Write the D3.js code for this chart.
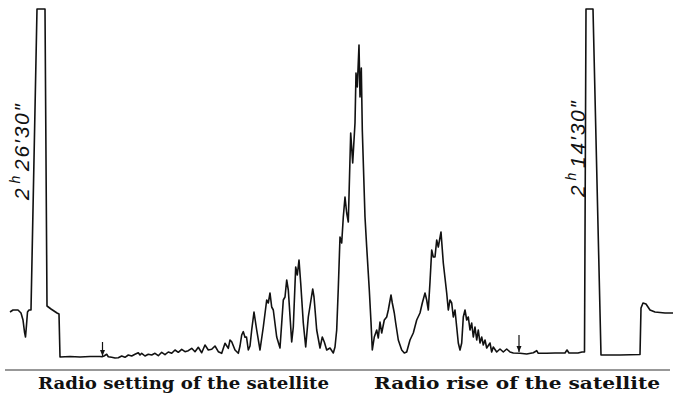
<!DOCTYPE html>
<html>
<head>
<meta charset="utf-8">
<script src="https://cdn.jsdelivr.net/npm/d3@7"></script>
<style>
  html, body { margin: 0; padding: 0; background: #fff; }
  .trace { fill: none; stroke: #111; stroke-width: 1.6; stroke-linejoin: round; }
  .timeLabel { font-family: 'Liberation Sans', 'DejaVu Sans', sans-serif; font-style: italic; fill: #111; }
  .phaseLabel { font-family: 'DejaVu Serif', 'Liberation Serif', serif; font-weight: bold; fill: #111; }
</style>
</head>
<body>
<div id="chart"></div>
<script>
/* global d3 */

// pen deflection along the chart strip: [position, deflection]
const pulseLeft = [
  [10, 46], [13, 48], [18, 48], [21, 45], [23, 38], [24.5, 26], [25.5, 21], [26.5, 33],
  [27.5, 46], [29, 48], [31, 48], [37, 349], [45, 349], [47, 52], [51, 49], [57, 45],
  [59, 44], [60, 1], [70, 1.5], [80, 1], [90, 1.5], [100, 1.5]
];

const settingTrace = [
  [102, 1.3], [104, 2], [106.7, 3.7], [108.3, 1.3], [111.7, 0.7], [115, 0], [118.3, 0.3],
  [121.7, 2], [125, 0.7], [128.3, 3], [131.7, 2], [135, 3.7], [138.3, 5.3], [140, 3],
  [141.7, 4.7], [145, 2], [148.3, 3.7], [151.7, 3], [155, 4.7], [158.3, 2.3], [161.7, 5.7],
  [165, 3.3], [168.3, 6], [171.7, 4.7], [175, 8], [178.3, 5.7], [181.7, 8.7], [185, 6.3],
  [188.3, 7.3], [191.7, 9.7], [195, 6.3], [198.3, 10.7], [201.7, 5.3], [205, 13], [208.3, 8],
  [211.7, 8.7], [215, 12], [218.3, 6.3], [221.7, 4.7], [225, 14.7], [228.3, 9.7], [230, 18],
  [231.7, 16.3], [235, 8], [238.3, 4.7], [240, 12], [241.7, 23], [243.3, 26.3], [245, 20.7],
  [246.5, 21], [248.3, 8], [250, 12], [251.7, 28], [254, 46], [256.7, 28], [260, 8],
  [263.3, 31], [266.7, 58], [268.3, 55], [270, 65], [271.7, 51], [273.3, 48], [276.7, 21],
  [280, 10], [283.3, 58], [285, 61], [286.7, 78], [288.3, 68], [291.7, 16], [293.3, 31],
  [295.7, 91], [297.3, 83], [299, 98], [300.7, 75], [303.3, 35], [305.7, 11], [308.3, 41],
  [312.7, 69], [314, 61], [316.7, 28], [320, 10], [322.3, 21], [324.3, 16], [326.7, 8],
  [330, 10], [333.3, 5]
];

const mainPeak = [
  [335, 11], [336.7, 28], [338.3, 70], [340, 121], [341.7, 115], [343.3, 141], [345, 161],
  [346.7, 145], [348.3, 136], [350.7, 225], [352.7, 195], [355, 235], [356, 285], [357.3, 271],
  [359, 313], [360, 261], [361.3, 290], [362.3, 228], [365, 141], [366.7, 111], [369.3, 68],
  [371, 36], [372.3, 8], [374.3, 21], [376.7, 28], [378.3, 20], [380, 36], [381.7, 25],
  [384.3, 38], [386.7, 41], [388.3, 48], [391, 63], [392.3, 55], [394.3, 45], [395.7, 35],
  [398.3, 18], [401.7, 8], [404.3, 5], [406.7, 6], [410, 18], [413.3, 25], [416.7, 38],
  [420, 45], [422.3, 55], [425, 65], [426.7, 58], [428.3, 48], [430, 76], [431.7, 108],
  [433.3, 101], [435, 101], [436.7, 118], [438.3, 111], [441, 126], [443.3, 95], [445, 80],
  [446.7, 65], [448.3, 48], [450, 58], [451.7, 55], [453.3, 41], [455, 48], [456.7, 31],
  [458.3, 15], [460, 8], [461.7, 15]
];

const riseTrace = [
  [463.3, 41], [465, 48], [466.7, 38], [468.3, 41], [470, 28], [471.7, 35], [473.3, 21],
  [475, 31], [476.7, 18], [478.3, 28], [480, 15], [481.7, 21], [483.3, 13], [485, 18],
  [486.7, 10], [490, 15], [491.7, 6], [493.3, 11], [496.7, 6], [500, 9], [503.3, 6],
  [506.7, 9], [510, 6], [513.3, 5], [520, 4.7], [526.7, 4], [533.3, 5.3], [536.7, 7.3],
  [538.3, 4.7], [546.7, 4.7], [555, 5], [565, 5], [567, 8], [569, 5], [578, 5], [582, 6]
];

const pulseRight = [
  [584.5, 6], [586, 349], [593, 349], [601, 3], [620, 3], [640, 3.5], [641, 50], [643, 55],
  [646, 54], [650, 48], [655, 46], [665, 45], [673, 45]
];

// arrow marks on the record: [position, top, bottom]
const arrowMarks = [[102.5, 16, 2], [519, 23, 6]];

const timeMarks = ['2', 'h', '26′30″', '2', 'h', '14′30″'];
const phaseLabels = ['Radio setting of the satellite', 'Radio rise of the satellite'];

const width = 673;
const height = 397;
const axisY = 370;

const svg = d3.select('#chart').append('svg')
  .attr('width', width)
  .attr('height', height);

const xScale = d3.scaleLinear()
  .domain([0, 673])
  .range([0, width]);

const yScale = d3.scaleLinear()
  .domain([0, 350])
  .range([358, 8]);

// the broken base line under the record
svg.append('line')
  .attr('x1', 5)
  .attr('x2', 670)
  .attr('y1', axisY)
  .attr('y2', axisY)
  .style('stroke', '#333')
  .style('stroke-width', 1.2);

const traceLine = d3.line()
  .x((d) => xScale(d[0]))
  .y((d) => yScale(d[1]));

const fullTrace = pulseLeft.concat(settingTrace, mainPeak, riseTrace, pulseRight);

svg.append('path')
  .datum(fullTrace)
  .attr('class', 'trace')
  .attr('d', traceLine);

const arrows = svg.append('g').attr('class', 'arrows');

arrowMarks.forEach((a) => {
  const x = xScale(a[0]);
  const yb = yScale(a[2]);
  arrows.append('line')
    .attr('x1', x).attr('x2', x)
    .attr('y1', yScale(a[1])).attr('y2', yb)
    .style('stroke', '#111')
    .style('stroke-width', 1.2);
  arrows.append('path')
    .attr('d', `M${x - 2.5},${yb - 6}L${x + 2.5},${yb - 6}L${x},${yb}Z`)
    .style('fill', '#111');
});

// rotated time marks beside the calibration pulses
function timeLabel(x, y, parts) {
  const t = svg.append('text')
    .attr('class', 'timeLabel')
    .attr('transform', `translate(${x},${y}) rotate(-90)`)
    .attr('textLength', 96)
    .attr('lengthAdjust', 'spacing')
    .style('font-size', '21px');
  t.append('tspan').text(parts[0]);
  t.append('tspan').attr('dy', -9).attr('dx', 3).style('font-size', '14px').text(parts[1]);
  t.append('tspan').attr('dy', 9).attr('dx', 3).text(parts[2]);
}

timeLabel(29, 200, timeMarks.slice(0, 3));
timeLabel(585, 197, timeMarks.slice(3, 6));

svg.append('text')
  .attr('class', 'phaseLabel')
  .attr('x', 38)
  .attr('y', 389)
  .attr('textLength', 291)
  .attr('lengthAdjust', 'spacingAndGlyphs')
  .style('font-size', '16px')
  .text(phaseLabels[0]);

svg.append('text')
  .attr('class', 'phaseLabel')
  .attr('x', 374)
  .attr('y', 389)
  .attr('textLength', 286)
  .attr('lengthAdjust', 'spacingAndGlyphs')
  .style('font-size', '16px')
  .text(phaseLabels[1]);
</script>
</body>
</html>
